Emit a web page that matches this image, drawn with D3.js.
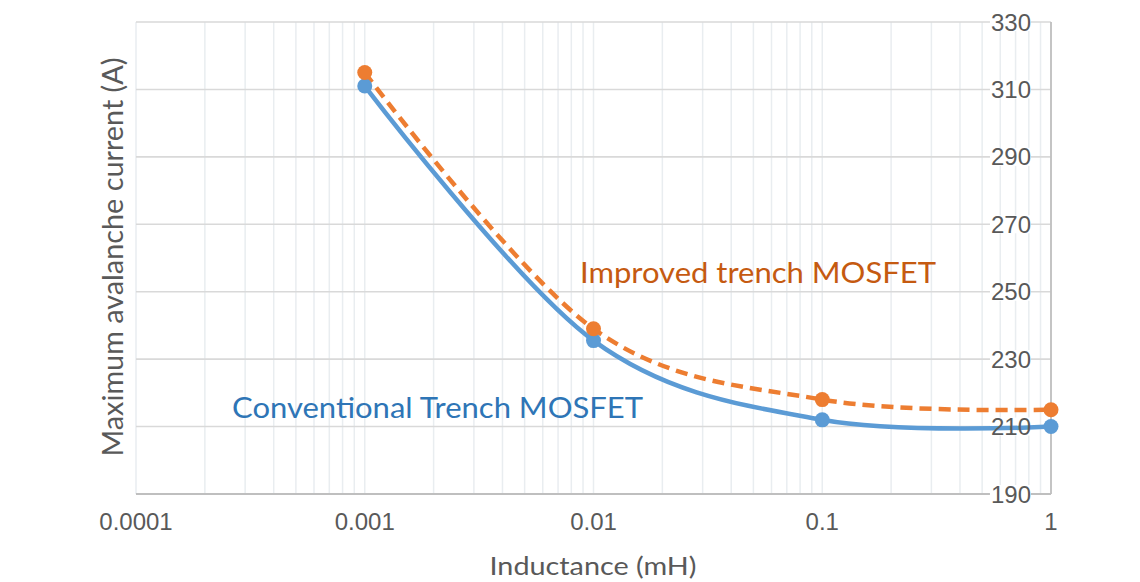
<!DOCTYPE html>
<html><head><meta charset="utf-8">
<script src="https://cdn.jsdelivr.net/npm/d3@7"></script>
<style>html,body{margin:0;padding:0;background:#fff;}svg{display:block;}</style>
</head><body>
<svg id="chart" width="1140" height="582"></svg>
<script>
const inductance = [0.001, 0.01, 0.1, 1];
const conventional = [311, 235.5, 212, 210];
const improved = [315, 239, 218, 215];
const xTicks = [0.0001, 0.001, 0.01, 0.1, 1];
const xTickLabels = ["0.0001", "0.001", "0.01", "0.1", "1"];
const yTicks = [190, 210, 230, 250, 270, 290, 310, 330];
const seriesNames = ["Conventional Trench MOSFET", "Improved trench MOSFET"];

const svg = d3.select("#chart");
const L = 136, R = 1051, T = 22, B = 494;
const x = d3.scaleLog().domain([0.0001, 1]).range([L, R]);
const y = d3.scaleLinear().domain([190, 330]).range([B, T]);
const numFont = "'Liberation Sans', Arial, sans-serif";
const txtFont = "Lato, 'Noto Sans', sans-serif";

// minor vertical grid
const minor = [];
for (let e = -4; e < 0; e++) for (let k = 1; k <= 9; k++) minor.push(k * Math.pow(10, e));
minor.push(1);
svg.append("g").selectAll("line").data(minor).join("line")
  .attr("x1", d => x(d)).attr("x2", d => x(d)).attr("y1", T).attr("y2", B)
  .attr("stroke", "#e9edf0").attr("stroke-width", 1.5);

// horizontal grid
svg.append("g").selectAll("line").data(yTicks).join("line")
  .attr("x1", L).attr("x2", R).attr("y1", d => y(d)).attr("y2", d => y(d))
  .attr("stroke", "#d9d9d9").attr("stroke-width", 1.6);

// axes lines
svg.append("line").attr("x1", L).attr("x2", R).attr("y1", B).attr("y2", B).attr("stroke", "#bfbfbf").attr("stroke-width", 1.8);
svg.append("line").attr("x1", R).attr("x2", R).attr("y1", T).attr("y2", B).attr("stroke", "#bfbfbf").attr("stroke-width", 1.8);

// y label backgrounds (drawn below the series)
const ylBg = svg.append("g");

// lines
const line = d3.line().x(d => x(d[0])).y(d => y(d[1])).curve(d3.curveCardinal.tension(0));
const blueData = inductance.map((d, i) => [d, conventional[i]]);
const orangeData = inductance.map((d, i) => [d, improved[i]]);
svg.append("path").datum(blueData).attr("d", line).attr("fill", "none")
  .attr("stroke", "#5b9bd5").attr("stroke-width", 4.5).attr("stroke-linecap", "round");
svg.append("path").datum(orangeData).attr("d", line).attr("fill", "none")
  .attr("stroke", "#ed7d31").attr("stroke-width", 4.5).attr("stroke-dasharray", "12,7");

svg.append("g").selectAll("circle").data(blueData).join("circle")
  .attr("cx", d => x(d[0])).attr("cy", d => y(d[1])).attr("r", 7.5).attr("fill", "#5b9bd5");
svg.append("g").selectAll("circle").data(orangeData).join("circle")
  .attr("cx", d => x(d[0])).attr("cy", d => y(d[1])).attr("r", 7.5).attr("fill", "#ed7d31");

// y labels
const yl = svg.append("g");
yTicks.forEach(v => {
  const t = yl.append("text").attr("x", 1031).attr("y", y(v)).attr("dy", "0.36em")
    .attr("text-anchor", "end").attr("font-family", numFont).attr("font-size", 24)
    .attr("fill", "#595959").text(v);
  const bb = t.node().getBBox();
  ylBg.append("rect").attr("x", bb.x - 1).attr("y", y(v) - 9).attr("width", bb.width + 1).attr("height", 18).attr("fill", "#fff");
});

// x labels
svg.append("g").selectAll("text").data(xTicks).join("text")
  .attr("x", d => x(d)).attr("y", 530).attr("text-anchor", "middle")
  .attr("font-family", numFont).attr("font-size", 24).attr("fill", "#595959")
  .text((d, i) => xTickLabels[i]);

// axis titles
svg.append("text").attr("transform", "translate(123,257) rotate(-90)").attr("text-anchor", "middle")
  .attr("font-family", txtFont).attr("font-size", 28).attr("fill", "#595959")
  .attr("textLength", 399).attr("lengthAdjust", "spacingAndGlyphs")
  .text("Maximum avalanche current (A)");
svg.append("text").attr("x", 593).attr("y", 575).attr("text-anchor", "middle")
  .attr("font-family", txtFont).attr("font-size", 25).attr("fill", "#595959")
  .attr("textLength", 207).attr("lengthAdjust", "spacingAndGlyphs")
  .text("Inductance (mH)");

// annotations
svg.append("text").attr("x", 580).attr("y", 283)
  .attr("font-family", txtFont).attr("font-size", 29).attr("fill", "#c55a11")
  .attr("textLength", 356).attr("lengthAdjust", "spacingAndGlyphs")
  .text(seriesNames[1]);
svg.append("text").attr("x", 232).attr("y", 418)
  .attr("font-family", txtFont).attr("font-size", 28).attr("fill", "#2e75b6")
  .attr("textLength", 411).attr("lengthAdjust", "spacingAndGlyphs")
  .text(seriesNames[0]);
</script>
</body></html>
